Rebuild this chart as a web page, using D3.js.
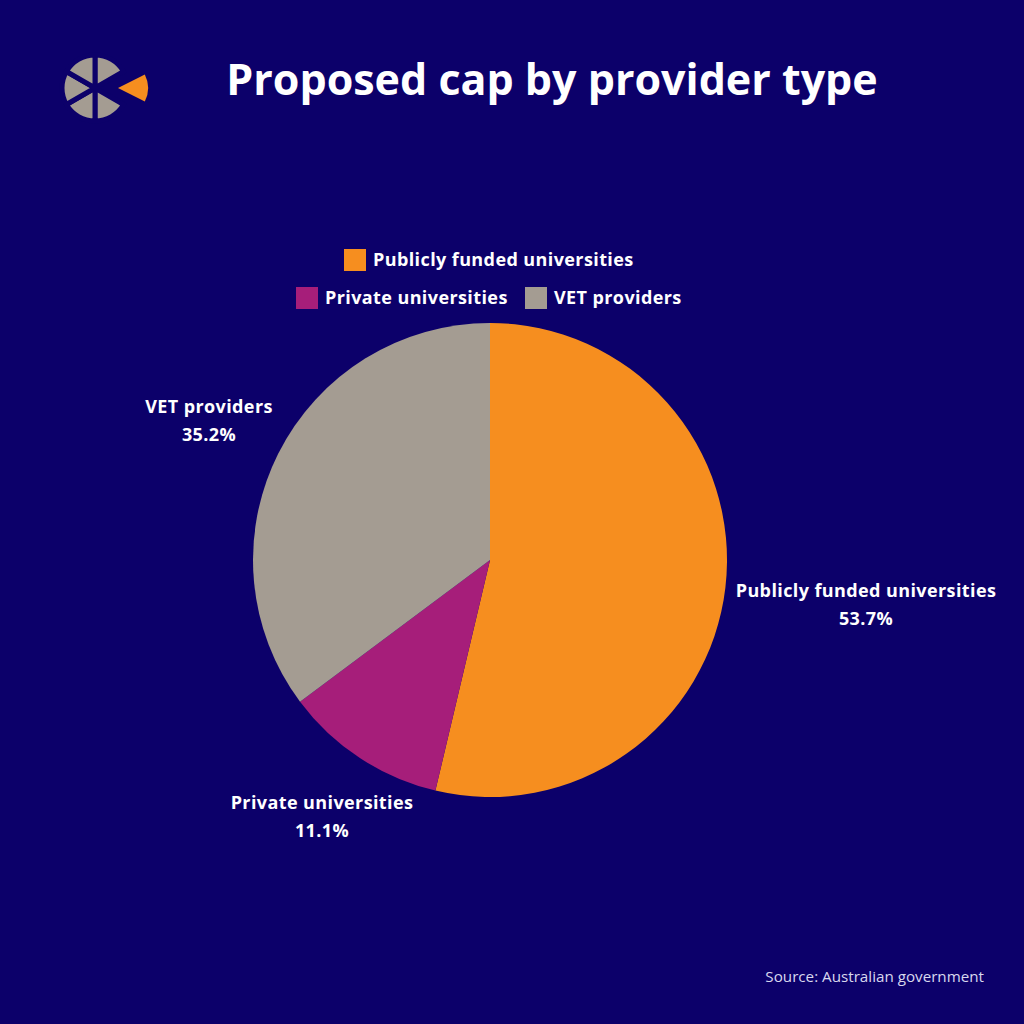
<!DOCTYPE html>
<html><head><meta charset="utf-8">
<script src="https://cdn.jsdelivr.net/npm/d3@7"></script>
<style>html,body{margin:0;padding:0;background:#0c006a;}svg{display:block;}</style>
</head><body>
<svg id="c" width="1024" height="1024"></svg>
<script>
const categories = ["Publicly funded universities", "Private universities", "VET providers"];
const values = [53.7, 11.1, 35.2];
const labels = ["53.7%", "11.1%", "35.2%"];
const colors = ["#f68e1f", "#a61e7a", "#a49c92"];
const titleText = "Proposed cap by provider type";
const sourceText = "Source: Australian government";

const svg = d3.select("#c");
const W = 1024, H = 1024;
svg.append("rect").attr("width", W).attr("height", H).attr("fill", "#0c006a");
const font = "'Open Sans', sans-serif";

// logo
const logo = svg.append("g").attr("transform", "translate(95,88)");
const logoSlices = d3.range(6);
const logoArc = d3.arc().innerRadius(0).outerRadius(33);
logoSlices.forEach(i => {
  if (i === 1) return;
  logo.append("path")
    .attr("d", logoArc({startAngle: i * Math.PI / 3, endAngle: (i + 1) * Math.PI / 3}))
    .attr("fill", "#a49c92").attr("stroke", "#0c006a").attr("stroke-width", 5);
});
logo.append("path")
  .attr("transform", "translate(23,0)")
  .attr("d", d3.arc().innerRadius(0).outerRadius(30)({startAngle: Math.PI / 3 + 0.06, endAngle: 2 * Math.PI / 3 - 0.06}))
  .attr("fill", "#f68e1f");

// title
svg.append("text").attr("x", 552).attr("y", 95).attr("text-anchor", "middle")
  .attr("font-family", font).attr("font-weight", 700).attr("font-size", 43)
  .attr("fill", "#ffffff").text(titleText);

const txtStyle = sel => sel.attr("font-family", font).attr("font-weight", 700)
  .attr("font-size", 18).attr("letter-spacing", 0.4).attr("fill", "#ffffff");

// legend
const legend = [
  {i: 0, x: 344, y: 249},
  {i: 1, x: 296, y: 287},
  {i: 2, x: 525, y: 287}
];
legend.forEach(l => {
  svg.append("rect").attr("x", l.x).attr("y", l.y).attr("width", 22).attr("height", 22).attr("fill", colors[l.i]);
  svg.append("text").attr("x", l.x + 29).attr("y", l.y + 17).call(txtStyle).text(categories[l.i]);
});

// pie
const cx = 490, cy = 560, R = 237;
const pie = d3.pie().sort(null).value(d => d)(values);
const arc = d3.arc().innerRadius(0).outerRadius(R);
const g = svg.append("g").attr("transform", `translate(${cx},${cy})`);
g.selectAll("path").data(pie).join("path").attr("d", arc).attr("fill", (d, i) => colors[i]);

// labels
const labelPos = [[866, 597], [322, 809], [209, 413]];
pie.forEach((d, i) => {
  const t = svg.append("text").attr("text-anchor", "middle").call(txtStyle);
  t.append("tspan").attr("x", labelPos[i][0]).attr("y", labelPos[i][1]).text(categories[i]);
  t.append("tspan").attr("x", labelPos[i][0]).attr("y", labelPos[i][1] + 28).text(labels[i]);
});

// source
svg.append("text").attr("x", 984).attr("y", 982).attr("text-anchor", "end")
  .attr("font-family", font).attr("font-size", 15.2).attr("fill", "#d8d8ee").text(sourceText);
</script>
</body></html>
